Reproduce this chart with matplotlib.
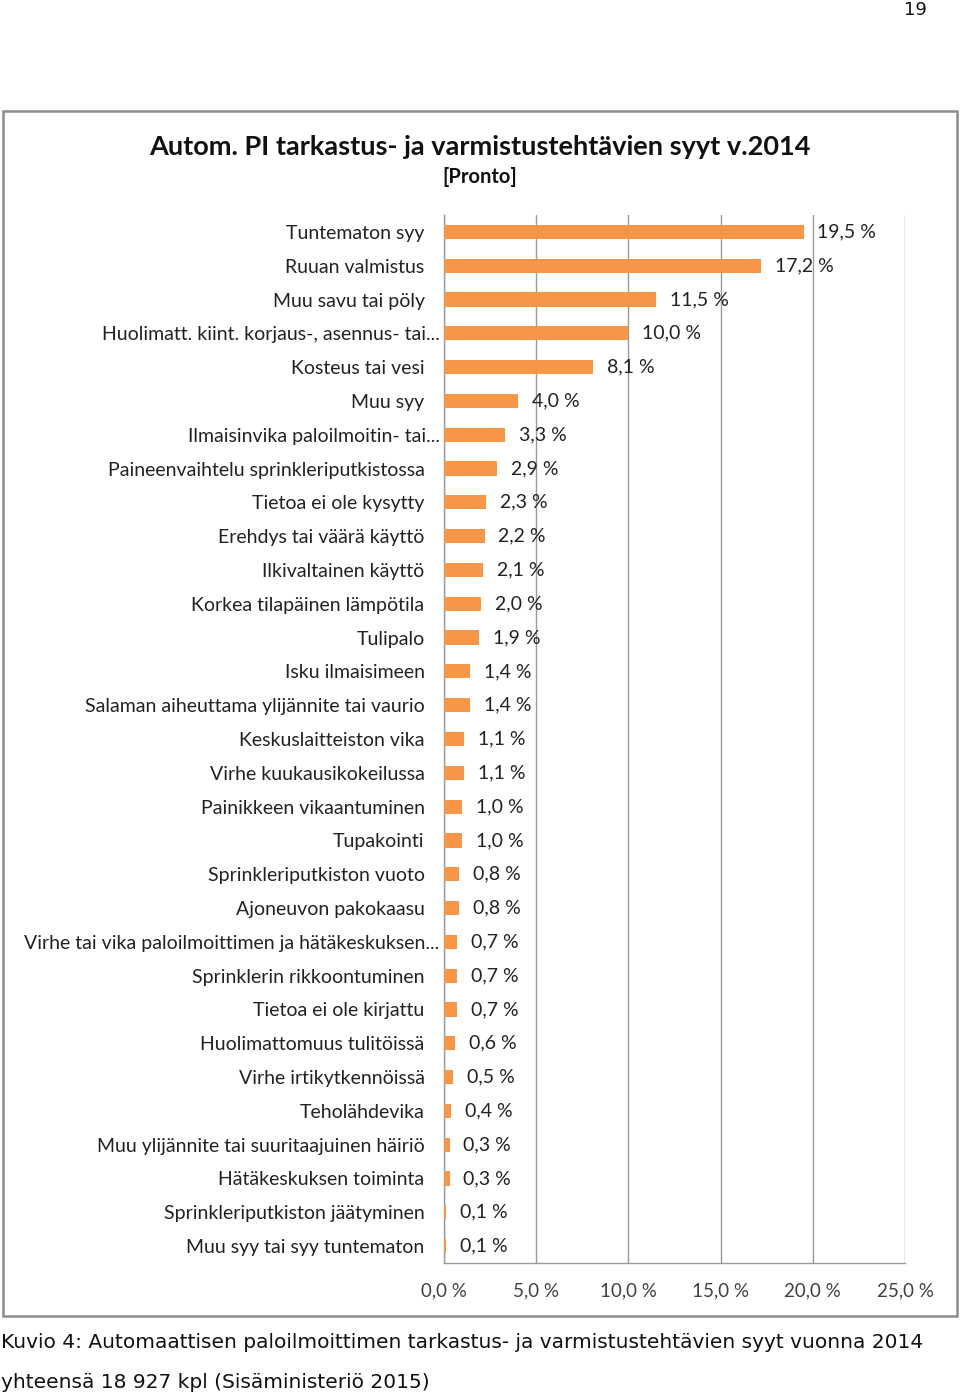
import matplotlib
matplotlib.use("Agg")
import matplotlib.pyplot as plt
from matplotlib.patches import Rectangle
from matplotlib.transforms import ScaledTranslation

categories = [
    "Tuntematon syy", "Ruuan valmistus", "Muu savu tai pöly",
    "Huolimatt. kiint. korjaus-, asennus- tai...", "Kosteus tai vesi", "Muu syy",
    "Ilmaisinvika paloilmoitin- tai...", "Paineenvaihtelu sprinkleriputkistossa",
    "Tietoa ei ole kysytty", "Erehdys tai väärä käyttö", "Ilkivaltainen käyttö",
    "Korkea tilapäinen lämpötila", "Tulipalo", "Isku ilmaisimeen",
    "Salaman aiheuttama ylijännite tai vaurio", "Keskuslaitteiston vika",
    "Virhe kuukausikokeilussa", "Painikkeen vikaantuminen", "Tupakointi",
    "Sprinkleriputkiston vuoto", "Ajoneuvon pakokaasu",
    "Virhe tai vika paloilmoittimen ja hätäkeskuksen...",
    "Sprinklerin rikkoontuminen", "Tietoa ei ole kirjattu",
    "Huolimattomuus tulitöissä", "Virhe irtikytkennöissä", "Teholähdevika",
    "Muu ylijännite tai suuritaajuinen häiriö", "Hätäkeskuksen toiminta",
    "Sprinkleriputkiston jäätyminen", "Muu syy tai syy tuntematon",
]
values = [19.5, 17.2, 11.5, 10.0, 8.1, 4.0, 3.3, 2.9, 2.3, 2.2, 2.1, 2.0, 1.9,
          1.4, 1.4, 1.1, 1.1, 1.0, 1.0, 0.8, 0.8, 0.7, 0.7, 0.7, 0.6, 0.5, 0.4,
          0.3, 0.3, 0.1, 0.1]
xticks = [0, 5, 10, 15, 20, 25]

W, H = 960, 1397
fig = plt.figure(figsize=(W / 100, H / 100), dpi=100)
fig.patch.set_facecolor("white")

def fx(px):
    return px / W

def fy(py):
    return 1 - py / H

# Outer chart frame
fig.patches.append(Rectangle((fx(3), fy(1316)), fx(957) - fx(3), fy(111) - fy(1316),
                             transform=fig.transFigure, fill=False,
                             edgecolor="#8c8c8c", linewidth=1.8))

ax = fig.add_axes([fx(444), fy(1263), fx(905) - fx(444), fy(215) - fy(1263)])
n = len(categories)
ypos = list(range(n))
ax.barh(ypos, values, height=0.42, color="#F79646", zorder=3)
ax.set_ylim(n - 0.5, -0.5)
ax.set_xlim(0, 25)
ax.set_xticks(xticks)
ax.set_xticklabels([f"{t:.1f} %".replace(".", ",") for t in xticks],
                   fontsize=13.5, color="#404040", family="Lato")
ax.set_yticks(ypos)
ax.set_yticklabels(categories, fontsize=14, color="#222222", family="Lato")
ax.tick_params(axis="both", length=0)
ax.tick_params(axis="x", pad=14)
ax.tick_params(axis="y", pad=14)
for lab in ax.get_yticklabels():
    if lab.get_text().endswith("..."):
        lab.set_transform(lab.get_transform() + ScaledTranslation(15 / 100, 0, fig.dpi_scale_trans))
ax.grid(axis="x", color="#9a9a9a", linewidth=1.0, zorder=0)
for s in ["top", "right"]:
    ax.spines[s].set_visible(False)
for s in ["left", "bottom"]:
    ax.spines[s].set_color("#9a9a9a")
    ax.spines[s].set_linewidth(1.0)

for y, v in zip(ypos, values):
    ax.annotate(f"{v:.1f} %".replace(".", ","), xy=(v, y), xytext=(10, 0),
                textcoords="offset points", va="center", ha="left",
                fontsize=14, color="#222222", family="Lato", zorder=4)

fig.text(fx(480), fy(147), "Autom. PI tarkastus- ja varmistustehtävien syyt v.2014",
         ha="center", va="center", fontsize=19.5, fontweight="bold",
         color="#111111", family="Lato")
fig.text(fx(480), fy(177), "[Pronto]", ha="center", va="center",
         fontsize=14.5, fontweight="bold", color="#111111", family="Lato")

fig.text(fx(915), fy(10), "19", ha="center", va="center", fontsize=13,
         color="#111111", family="DejaVu Sans")
fig.text(fx(1), fy(1343),
         "Kuvio 4: Automaattisen paloilmoittimen tarkastus- ja varmistustehtävien syyt vuonna 2014",
         ha="left", va="center", fontsize=14.5, color="#111111", family="DejaVu Sans")
fig.text(fx(1), fy(1382), "yhteensä 18 927 kpl (Sisäministeriö 2015)",
         ha="left", va="center", fontsize=14.5, color="#111111", family="DejaVu Sans")

fig.savefig("out.png", dpi=100, facecolor="white")
